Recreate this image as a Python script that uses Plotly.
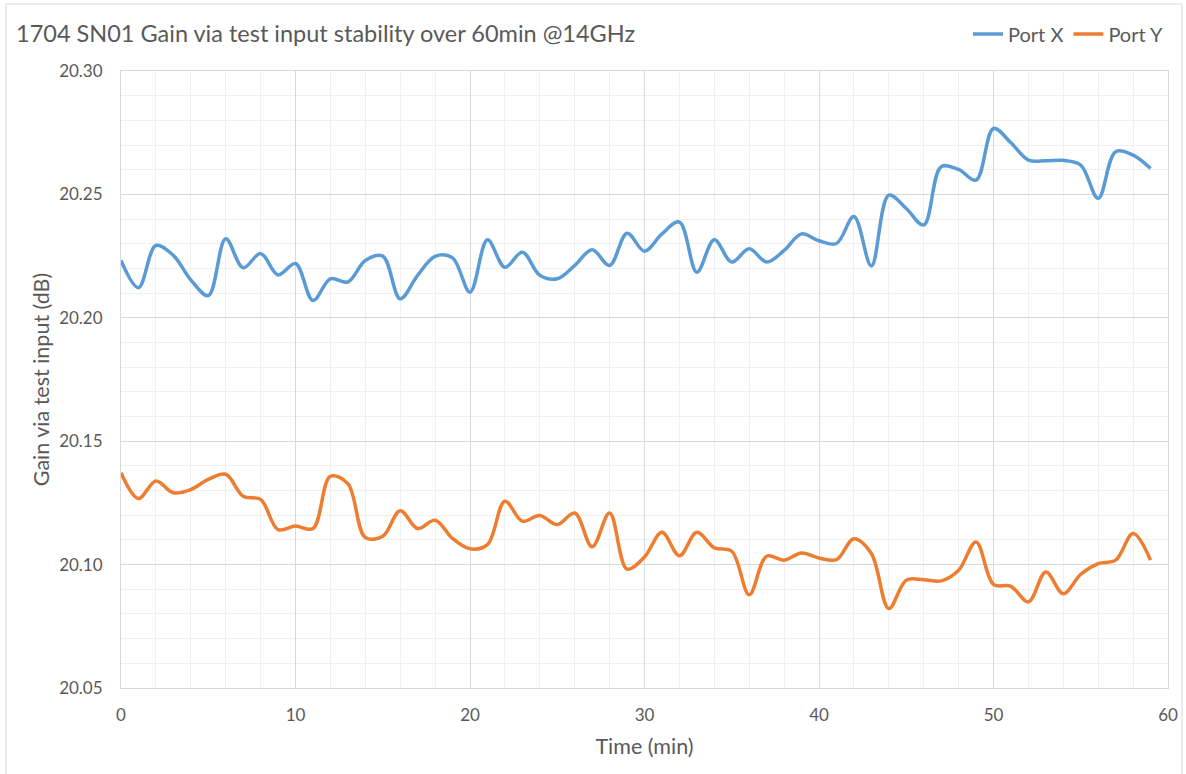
import plotly.graph_objects as go

# Time axis (minutes) and measured gain for each port
time_min = list(range(60))

port_x = [
    20.2232, 20.2122, 20.2293, 20.2253, 20.2154, 20.2090, 20.2320, 20.2203, 20.2260, 20.2174,
    20.2220, 20.2070, 20.2158, 20.2145, 20.2232, 20.2250, 20.2077, 20.2172, 20.2249, 20.2243,
    20.2104, 20.2316, 20.2205, 20.2266, 20.2172, 20.2158, 20.2212, 20.2276, 20.2212, 20.2343,
    20.2270, 20.2340, 20.2388, 20.2185, 20.2316, 20.2226, 20.2280, 20.2226, 20.2273, 20.2340,
    20.2312, 20.2301, 20.2410, 20.2210, 20.2497, 20.2443, 20.2376, 20.2612, 20.2601, 20.2558,
    20.2767, 20.2709, 20.2639, 20.2636, 20.2638, 20.2619, 20.2484, 20.2673, 20.2659, 20.2605,
]

port_y = [
    20.1372, 20.1268, 20.1339, 20.1291, 20.1304, 20.1345, 20.1366, 20.1277, 20.1264, 20.1142,
    20.1156, 20.1146, 20.1358, 20.1328, 20.1110, 20.1115, 20.1218, 20.1146, 20.1180, 20.1106,
    20.1064, 20.1081, 20.1257, 20.1176, 20.1199, 20.1162, 20.1209, 20.1072, 20.1209, 20.0982,
    20.1031, 20.1131, 20.1036, 20.1131, 20.1068, 20.1054, 20.0878, 20.1034, 20.1018, 20.1047,
    20.1027, 20.1020, 20.1105, 20.1045, 20.0822, 20.0937, 20.0939, 20.0934, 20.0977, 20.1092,
    20.0920, 20.0912, 20.0849, 20.0970, 20.0882, 20.0961, 20.1004, 20.1018, 20.1126, 20.1018,
]

series = [("Port X", port_x, "#5B9BD5"), ("Port Y", port_y, "#ED7D31")]

FONT = "Lato"
TEXT = "#595959"

fig = go.Figure()
for name, vals, color in series:
    fig.add_trace(go.Scatter(
        x=time_min, y=vals, name=name, mode="lines",
        line=dict(color=color, width=3.5, shape="spline", smoothing=1.0),
    ))

fig.update_layout(
    width=1186, height=774,
    margin=dict(l=121, r=18, t=71, b=86, autoexpand=False),
    paper_bgcolor="white", plot_bgcolor="white",
    font=dict(family=FONT, size=17, color=TEXT),
    title=dict(
        text="1704 SN01 Gain via test input stability over 60min @14GHz",
        x=16 / 1186, xanchor="left", y=1 - 34 / 774, yanchor="middle",
        font=dict(family=FONT, size=23.5, color=TEXT),
    ),
    legend=dict(
        orientation="h", xanchor="right", x=1.0, yanchor="middle", y=1.06,
        font=dict(family=FONT, size=20, color=TEXT), bgcolor="rgba(0,0,0,0)",
        itemwidth=30, tracegroupgap=0,
    ),
    showlegend=True,
)

fig.update_xaxes(
    range=[0, 60], dtick=10, tick0=0,
    showgrid=True, gridcolor="#D9D9D9", gridwidth=1,
    minor=dict(dtick=2, showgrid=True, gridcolor="#F0F0F0", gridwidth=1),
    zeroline=False, showline=True, linecolor="#D9D9D9", mirror=True,
    ticks="", ticklabelstandoff=12,
    tickfont=dict(family=FONT, size=17, color=TEXT),
    title=dict(text="Time (min)", font=dict(family=FONT, size=21.5, color=TEXT), standoff=14),
)

fig.update_yaxes(
    range=[20.05, 20.30], dtick=0.05, tick0=20.05, tickformat=".2f",
    showgrid=True, gridcolor="#D9D9D9", gridwidth=1,
    minor=dict(dtick=0.01, showgrid=True, gridcolor="#F0F0F0", gridwidth=1),
    zeroline=False, showline=True, linecolor="#D9D9D9", mirror=True,
    ticks="", ticklabelstandoff=14,
    tickfont=dict(family=FONT, size=17, color=TEXT),
    title=dict(text="Gain via test input (dB)", font=dict(family=FONT, size=21.5, color=TEXT), standoff=3),
)

# Light frame around the whole chart
fig.add_shape(
    type="rect", xref="paper", yref="paper",
    x0=(6 - 121) / 1047, x1=(1182 - 121) / 1047,
    y0=(688 - 780) / 617, y1=(688 - 4) / 617,
    line=dict(color="#D9D9D9", width=1), fillcolor="rgba(0,0,0,0)", layer="below",
)

fig.write_html("out.html")
